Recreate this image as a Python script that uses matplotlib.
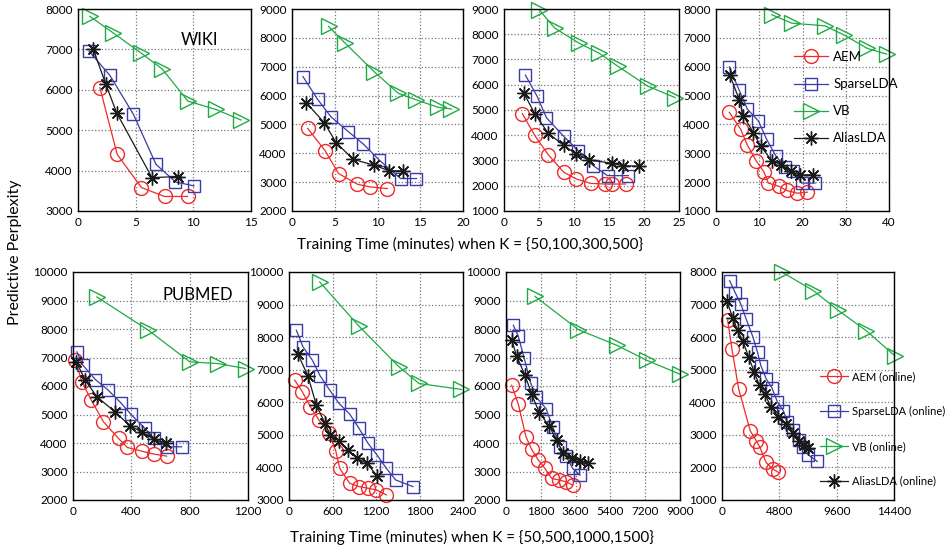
import matplotlib
matplotlib.use('Agg')
import matplotlib.pyplot as plt

plt.rcParams['font.family'] = ['Lato', 'DejaVu Sans']

# ---- WIKI, K = 50 ----
w50_aem_x = [1.9, 3.4, 5.5, 7.5, 9.5]
w50_aem_y = [6050, 4400, 3580, 3360, 3360]
w50_sp_x = [0.96, 2.77, 4.81, 6.76, 8.45, 10.06]
w50_sp_y = [6955, 6354, 5391, 4156, 3720, 3621]
w50_vb_x = [1.02, 3.06, 5.45, 7.29, 9.53, 11.95, 14.14]
w50_vb_y = [7819, 7407, 6914, 6519, 5720, 5514, 5251]
w50_al_x = [1.31, 2.42, 3.35, 6.41, 8.69]
w50_al_y = [7012, 6132, 5432, 3827, 3852]

# ---- WIKI, K = 100 ----
w100_aem_x = [1.83, 3.88, 5.44, 7.65, 9.13, 11.15]
w100_aem_y = [4863, 4087, 3299, 2928, 2835, 2777]
w100_sp_x = [1.28, 2.99, 4.54, 6.60, 8.35, 10.21, 12.70, 14.56]
w100_sp_y = [6659, 5871, 5269, 4747, 4319, 3763, 3125, 3125]
w100_vb_x = [4.27, 6.21, 9.59, 12.43, 14.56, 17.09, 18.64]
w100_vb_y = [8397, 7818, 6833, 6080, 5848, 5593, 5535]
w100_al_x = [1.67, 3.77, 5.17, 7.18, 9.59, 11.38, 13.01]
w100_al_y = [5756, 5060, 4365, 3786, 3589, 3392, 3392]

# ---- WIKI, K = 300 ----
w300_aem_x = [2.62, 4.39, 6.30, 8.54, 10.35, 12.36, 14.41, 15.36, 17.37]
w300_aem_y = [4857, 3993, 3236, 2533, 2267, 2094, 2068, 2068, 2068]
w300_sp_x = [3.05, 4.72, 6.06, 8.54, 10.59, 12.74, 14.79, 17.75]
w300_sp_y = [6384, 5547, 4697, 3954, 3396, 2798, 2400, 2400]
w300_vb_x = [5.01, 7.25, 10.73, 13.60, 16.22, 20.52, 24.43]
w300_vb_y = [8973, 8243, 7645, 7247, 6742, 5946, 5494]
w300_al_x = [2.81, 4.39, 6.30, 8.54, 10.26, 12.17, 15.36, 16.94, 19.32]
w300_al_y = [5680, 4857, 4086, 3595, 3263, 3024, 2891, 2798, 2772]

# ---- WIKI, K = 500 ----
w500_aem_x = [3.08, 5.70, 7.24, 9.24, 11.09, 12.10, 14.64, 16.33, 18.80, 21.11]
w500_aem_y = [4418, 3834, 3286, 2749, 2352, 1967, 1851, 1711, 1617, 1652]
w500_sp_x = [3.08, 5.32, 7.24, 9.78, 11.71, 13.87, 15.95, 17.87, 19.80, 22.88]
w500_sp_y = [5993, 5200, 4534, 4126, 3484, 2901, 2527, 2376, 1967, 1967]
w500_vb_x = [12.87, 17.49, 25.19, 29.58, 34.98, 39.45]
w500_vb_y = [7802, 7510, 7417, 7102, 6635, 6436]
w500_al_x = [3.24, 5.39, 6.32, 8.63, 10.32, 12.87, 14.95, 17.26, 19.41, 22.34]
w500_al_y = [5701, 4849, 4301, 3718, 3251, 2749, 2609, 2376, 2236, 2259]

# ---- PUBMED, K = 50 (online) ----
p50_aem_x = [16, 61, 123, 209, 312, 373, 471, 556, 642]
p50_aem_y = [6904, 6145, 5526, 4743, 4159, 3843, 3715, 3610, 3540]
p50_sp_x = [27, 68, 153, 237, 328, 396, 494, 556, 643, 745]
p50_sp_y = [7196, 6729, 6227, 5876, 5409, 5012, 4509, 4159, 3867, 3867]
p50_vb_x = [164, 517, 801, 995, 1184]
p50_vb_y = [9124, 7956, 6846, 6787, 6612]
p50_al_x = [23, 84, 164, 289, 392, 471, 556, 635]
p50_al_y = [6846, 6203, 5619, 5093, 4591, 4393, 4124, 4007]

# ---- PUBMED, K = 500 ----
p500_aem_x = [78, 184, 294, 414, 552, 644, 699, 837, 966, 1090, 1205, 1343]
p500_aem_y = [6680, 6323, 5863, 5455, 5046, 4515, 3973, 3514, 3412, 3361, 3310, 3156]
p500_sp_x = [101, 193, 322, 432, 561, 690, 837, 966, 1090, 1214, 1342, 1471, 1710]
p500_sp_y = [8212, 7702, 7293, 6803, 6374, 5965, 5638, 5199, 4740, 4382, 3973, 3616, 3412]
p500_vb_x = [423, 966, 1517, 1793, 2377]
p500_vb_y = [9694, 8335, 7089, 6578, 6394]
p500_al_x = [124, 262, 377, 492, 570, 690, 814, 938, 1076, 1214]
p500_al_y = [7477, 6803, 5914, 5373, 4995, 4821, 4535, 4280, 4127, 3739]

# ---- PUBMED, K = 1000 ----
p1000_aem_x = [293, 638, 1034, 1328, 1672, 2017, 2362, 2759, 3103, 3448]
p1000_aem_y = [6028, 5362, 4217, 3773, 3400, 3107, 2757, 2699, 2640, 2523]
p1000_sp_x = [379, 638, 931, 1276, 1552, 2069, 2414, 2793, 3103, 3448, 3828]
p1000_sp_y = [8131, 7745, 6998, 6110, 5619, 5210, 4568, 3867, 3540, 3107, 2874]
p1000_vb_x = [1500, 3741, 5724, 7276, 9000]
p1000_vb_y = [9147, 7979, 7430, 6904, 6414]
p1000_al_x = [293, 552, 983, 1328, 1724, 2241, 2621, 2966, 3397, 3828, 4259]
p1000_al_y = [7629, 7044, 6379, 5713, 5058, 4591, 4100, 3633, 3458, 3376, 3283]

# ---- PUBMED, K = 1500 ----
p1500_aem_x = [473, 834, 1390, 2363, 2864, 3142, 3698, 4254, 4726]
p1500_aem_y = [6518, 5635, 4416, 3127, 2822, 2640, 2152, 1949, 1848]
p1500_sp_x = [639, 1112, 1585, 2030, 2586, 2975, 3253, 3698, 4170, 4643, 5143,
              5477, 5922, 6478, 6811, 7228, 7979]
p1500_sp_y = [7736, 7360, 7005, 6548, 6010, 5533, 5127, 4721, 4447, 4010, 3736,
              3401, 3147, 2843, 2640, 2386, 2183]
p1500_vb_x = [5004, 7645, 9730, 12093, 14456]
p1500_vb_y = [8000, 7431, 6822, 6193, 5431]
p1500_al_x = [417, 890, 1307, 1751, 2224, 2697, 3142, 3614, 4087, 4726, 5366,
              5977, 6478, 6867, 7228]
p1500_al_y = [7107, 6599, 6213, 5868, 5401, 4924, 4518, 4244, 3858, 3553, 3330,
              3046, 2822, 2690, 2589]

xticks_list = [[0, 5, 10, 15], [0, 5, 10, 15, 20], [0, 5, 10, 15, 20, 25], [0, 10, 20, 30, 40],
               [0, 400, 800, 1200], [0, 600, 1200, 1800, 2400],
               [0, 1800, 3600, 5400, 7200, 9000], [0, 4800, 9600, 14400]]
ylims = [(3000, 8000), (2000, 9000), (1000, 9000), (1000, 8000),
         (2000, 10000), (3000, 10000), (2000, 10000), (1000, 8000)]

panels = [
    (w50_aem_x, w50_aem_y, w50_sp_x, w50_sp_y, w50_vb_x, w50_vb_y, w50_al_x, w50_al_y),
    (w100_aem_x, w100_aem_y, w100_sp_x, w100_sp_y, w100_vb_x, w100_vb_y, w100_al_x, w100_al_y),
    (w300_aem_x, w300_aem_y, w300_sp_x, w300_sp_y, w300_vb_x, w300_vb_y, w300_al_x, w300_al_y),
    (w500_aem_x, w500_aem_y, w500_sp_x, w500_sp_y, w500_vb_x, w500_vb_y, w500_al_x, w500_al_y),
    (p50_aem_x, p50_aem_y, p50_sp_x, p50_sp_y, p50_vb_x, p50_vb_y, p50_al_x, p50_al_y),
    (p500_aem_x, p500_aem_y, p500_sp_x, p500_sp_y, p500_vb_x, p500_vb_y, p500_al_x, p500_al_y),
    (p1000_aem_x, p1000_aem_y, p1000_sp_x, p1000_sp_y, p1000_vb_x, p1000_vb_y, p1000_al_x, p1000_al_y),
    (p1500_aem_x, p1500_aem_y, p1500_sp_x, p1500_sp_y, p1500_vb_x, p1500_vb_y, p1500_al_x, p1500_al_y),
]

W, H = 946., 550.
# axes boxes in pixels: left, right, top, bottom
boxes = [(78, 251, 9, 211), (292, 463, 9, 211), (504, 679, 9, 211), (716, 889, 9, 211),
         (73, 248, 272, 500), (289, 463, 272, 500), (506, 680, 272, 500), (722, 894, 272, 500)]

c_aem = '#ee2a2a'
c_sp = '#3b3ba6'
c_vb = '#1faa45'
c_al = '#1a1a1a'

fig = plt.figure(figsize=(W / 100, H / 100), dpi=100)
axes = []
for i, (l, r, t, b) in enumerate(boxes):
    ax = fig.add_axes([l / W, 1 - b / H, (r - l) / W, (b - t) / H])
    d = panels[i]
    online = ' (online)' if i >= 4 else ''
    ax.plot(d[0], d[1], color=c_aem, lw=0.9, marker='o', ms=10, mfc='none', mew=1.0,
            label='AEM' + online, clip_on=False)
    ax.plot(d[2], d[3], color=c_sp, lw=0.9, marker='s', ms=9, mfc='none', mew=1.0,
            label='SparseLDA' + online, clip_on=False)
    ax.plot(d[4], d[5], color=c_vb, lw=0.9, marker='>', ms=12, mfc='none', mew=1.0,
            label='VB' + online, clip_on=False)
    ax.plot(d[6], d[7], color=c_al, lw=0.9, marker=(8, 2, 0), ms=10, mew=1.0,
            label='AliasLDA' + online, clip_on=False)
    xt = xticks_list[i]
    ax.set_xlim(xt[0], xt[-1])
    ax.set_xticks(xt)
    ax.set_ylim(*ylims[i])
    ax.set_yticks(range(ylims[i][0], ylims[i][1] + 1, 1000))
    ax.grid(True, linestyle=':', color='#777777', linewidth=0.9)
    ax.tick_params(length=0, labelsize=8.5, pad=4)
    for s in ax.spines.values():
        s.set_linewidth(1.0)
        s.set_color('black')
    axes.append(ax)

axes[0].text(0.705, 0.847, 'WIKI', transform=axes[0].transAxes, ha='center', va='center',
             fontsize=12)
axes[4].text(0.71, 0.9, 'PUBMED', transform=axes[4].transAxes, ha='center', va='center',
             fontsize=12)

axes[3].legend(loc='upper left', bbox_to_anchor=(0.41, 0.825), frameon=False, fontsize=9.5,
               handlelength=2.6, labelspacing=1.15, handletextpad=0.4, borderpad=0)
axes[7].legend(loc='upper left', bbox_to_anchor=(0.54, 0.59), frameon=False, fontsize=8,
               handlelength=2.5, labelspacing=2.15, handletextpad=0.35, borderpad=0)

fig.text(470 / W, 1 - 244 / H, 'Training Time (minutes) when K = {50,100,300,500}',
         ha='center', va='center', fontsize=11)
fig.text(472 / W, 1 - 537 / H, 'Training Time (minutes) when K = {50,500,1000,1500}',
         ha='center', va='center', fontsize=11)
fig.text(15 / W, 1 - 252 / H, 'Predictive Perplexity', rotation=90, ha='center', va='center',
         fontsize=11.5)

fig.savefig('out.png', dpi=100)
